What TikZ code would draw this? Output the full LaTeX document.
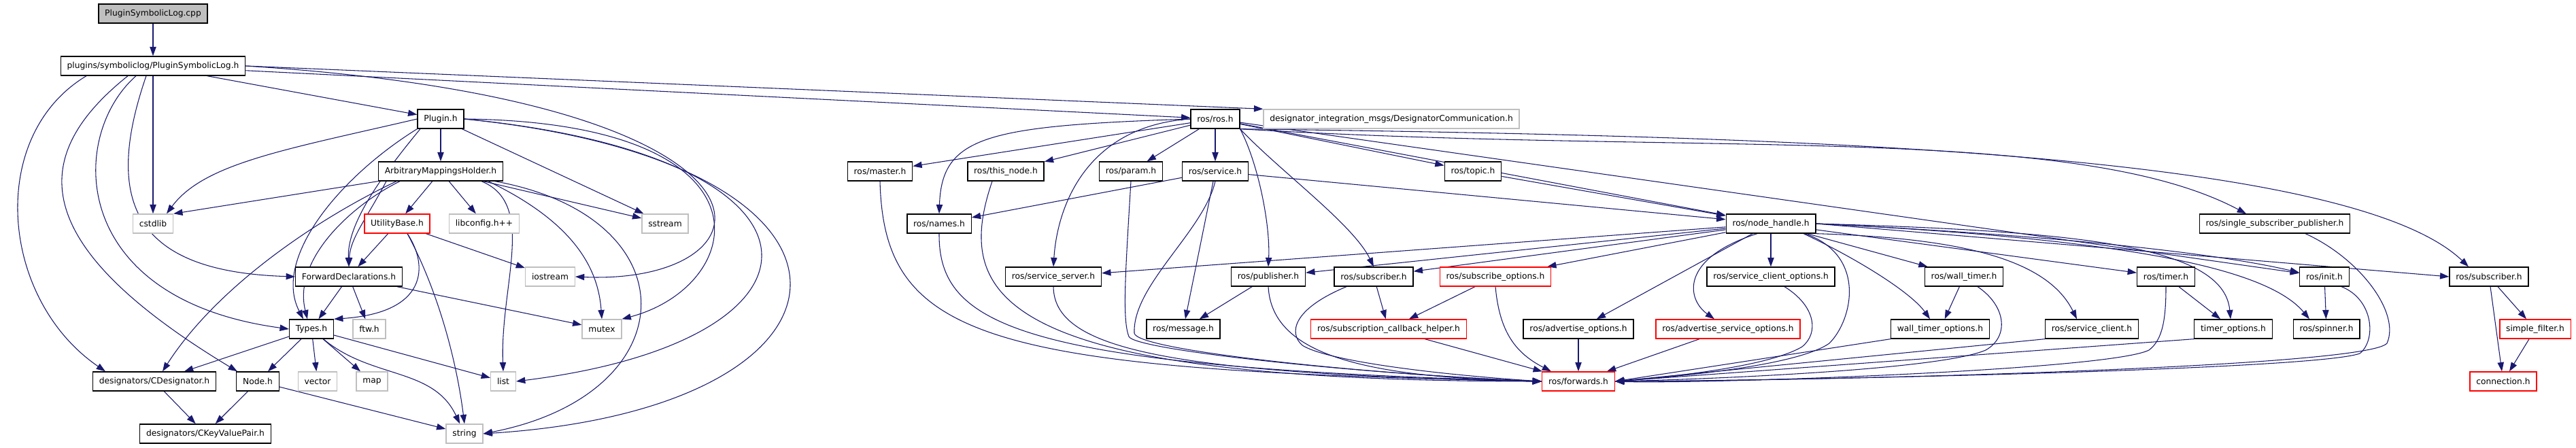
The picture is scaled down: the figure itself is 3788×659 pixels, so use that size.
\documentclass[tikz,border=0pt]{standalone}
\usepackage{fontspec}
\setmainfont{DejaVu Sans}
\usepackage{tikz}
\usetikzlibrary{arrows.meta, calc, positioning, backgrounds}
\definecolor{edgeblue}{HTML}{191970}
\definecolor{sysgray}{HTML}{BFBFBF}
\definecolor{linkred}{HTML}{FF0000}
\tikzset{
	filenode/.style={
			shape=rectangle,
			draw=black,
			line width=1pt,
			fill=white,
			minimum height=21pt,
			inner xsep=7pt,
			inner ysep=0pt,
			font=\fontsize{9.2}{11}\selectfont
		},
	sysnode/.style={
			filenode,
			draw=sysgray
		},
	rednode/.style={
			filenode,
			draw=linkred
		},
	rootnode/.style={
			filenode,
			fill=sysgray
		},
	includeedge/.style={
			draw=edgeblue,
			line width=0.8pt,
			-{Triangle[length=10pt,width=7pt]}
		}
}

\begin{document}
\begin{tikzpicture}[x=0.75pt, y=0.75pt]
\useasboundingbox (0,0) rectangle (3788,-659);

\node[rootnode] (cpp) at (225,-20) {PluginSymbolicLog.cpp};
\node[filenode] (psl) at (225,-97) {plugins/symboliclog/PluginSymbolicLog.h};

\node[filenode] (plugin) at (648,-175) {Plugin.h};
\node[filenode] (rosros) at (1787,-175) {ros/ros.h};
\node[sysnode] (dcomm) at (2046,-175) {designator\_integration\_msgs/DesignatorCommunication.h};

\node[filenode] (amh) at (648,-252) {ArbitraryMappingsHolder.h};
\node[filenode] (master) at (1294,-252) {ros/master.h};
\node[filenode] (thisnode) at (1479,-252) {ros/this\_node.h};
\node[filenode] (param) at (1663,-252) {ros/param.h};
\node[filenode] (service) at (1787,-252) {ros/service.h};
\node[filenode] (topic) at (2166,-252) {ros/topic.h};

\node[sysnode] (cstdlib) at (225,-329) {cstdlib};
\node[rednode] (utility) at (584,-329) {UtilityBase.h};
\node[sysnode] (libconfig) at (712,-329) {libconfig.h++};
\node[sysnode] (sstream) at (978,-329) {sstream};
\node[filenode] (names) at (1381,-329) {ros/names.h};
\node[filenode] (nodehandle) at (2604,-329) {ros/node\_handle.h};
\node[filenode] (ssp) at (3345,-329) {ros/single\_subscriber\_publisher.h};

\node[filenode] (fwddecl) at (513,-407) {ForwardDeclarations.h};
\node[sysnode] (iostream) at (809,-407) {iostream};
\node[filenode] (servserver) at (1549,-407) {ros/service\_server.h};
\node[filenode] (publisher) at (1865,-407) {ros/publisher.h};
\node[filenode] (subscriber) at (2020,-407) {ros/subscriber.h};
\node[rednode] (subopts) at (2199,-407) {ros/subscribe\_options.h};
\node[filenode] (scopts) at (2604,-407) {ros/service\_client\_options.h};
\node[filenode] (walltimer) at (2888,-407) {ros/wall\_timer.h};
\node[filenode] (timer) at (3185,-407) {ros/timer.h};
\node[filenode] (init) at (3418,-407) {ros/init.h};
\node[filenode] (subscriber2) at (3660,-407) {ros/subscriber.h};

\node[filenode] (types) at (458,-484) {Types.h};
\node[sysnode] (ftw) at (543,-484) {ftw.h};
\node[sysnode] (mutex) at (885,-484) {mutex};
\node[filenode] (message) at (1740,-484) {ros/message.h};
\node[rednode] (schelper) at (2042,-484) {ros/subscription\_callback\_helper.h};
\node[filenode] (advopts) at (2321,-484) {ros/advertise\_options.h};
\node[rednode] (advsvcopts) at (2541,-484) {ros/advertise\_service\_options.h};
\node[filenode] (wtopts) at (2853,-484) {wall\_timer\_options.h};
\node[filenode] (svcclient) at (3076,-484) {ros/service\_client.h};
\node[filenode] (timeropts) at (3284,-484) {timer\_options.h};
\node[filenode] (spinner) at (3421,-484) {ros/spinner.h};
\node[rednode] (simplefilter) at (3728,-484) {simple\_filter.h};

\node[filenode] (cdesig) at (227,-561) {designators/CDesignator.h};
\node[filenode] (nodeh) at (379,-561) {Node.h};
\node[sysnode] (vector) at (467,-561) {vector};
\node[sysnode] (map) at (547,-561) {map};
\node[sysnode] (list) at (740,-561) {list};
\node[rednode] (forwards) at (2321,-561) {ros/forwards.h};
\node[rednode] (connection) at (3681,-561) {connection.h};

\node[filenode] (ckv) at (302,-638) {designators/CKeyValuePair.h};
\node[sysnode] (string) at (683,-638) {string};

\begin{scope}[on background layer]
\draw[includeedge] (cpp) -- (psl);
\draw[includeedge] (psl) -- (plugin);
\draw[includeedge] (psl) -- (rosros);
\draw[includeedge] (psl.east) -- (dcomm.north west);
\draw[includeedge] (psl) -- (cstdlib);
\draw[includeedge] ($(psl.south)+(-98,0)$) .. controls (-20,-200) and (0,-440) .. ($(cdesig.north)+(-72,0)$);
\draw[includeedge] ($(psl.south)+(-37,0)$) .. controls (40,-230) and (40,-360) .. ($(nodeh.north)+(-30,0)$);
\draw[includeedge] ($(psl.south)+(-25,0)$) .. controls (100,-200) and (100,-440) .. (types.west);
\draw[includeedge] ($(psl.south)+(-10,0)$) .. controls (150,-300) and (200,-400) .. (fwddecl.west);
\draw[includeedge] (psl.east) .. controls (1200,-150) and (1150,-420) .. (iostream.east);

\draw[includeedge] (plugin) -- (amh);
\draw[includeedge] (plugin.west) .. controls (420,-220) and (300,-240) .. ($(cstdlib.north)+(20,0)$);
\draw[includeedge] (plugin.south west) .. controls (500,-260) and (400,-380) .. ($(types.north)+(-12,0)$);
\draw[includeedge] ($(plugin.south)+(-30,0)$) .. controls (560,-260) and (510,-330) .. (fwddecl.north);
\draw[includeedge] (plugin) -- (sstream);
\draw[includeedge] (plugin.east) .. controls (1150,-180) and (1100,-420) .. (mutex.north east);
\draw[includeedge] (plugin.east) .. controls (1250,-230) and (1250,-500) .. (list.east);
\draw[includeedge] (plugin.east) .. controls (1330,-240) and (1300,-600) .. (string.east);

\draw[includeedge] (amh.south west) -- (cstdlib.north east);
\draw[includeedge] (amh) -- (utility);
\draw[includeedge] (amh) -- (libconfig);
\draw[includeedge] (amh) -- (sstream);
\draw[includeedge] ($(amh.south)+(-60,0)$) .. controls (520,-300) and (430,-380) .. ($(types.north)+(-6,0)$);
\draw[includeedge] ($(amh.south)+(-65,0)$) .. controls (470,-320) and (320,-420) .. ($(cdesig.north)+(12,0)$);
\draw[includeedge] ($(amh.south)+(-80,0)$) .. controls (540,-320) and (515,-350) .. (fwddecl.north);
\draw[includeedge] ($(amh.south)+(60,0)$) .. controls (790,-300) and (735,-420) .. (list.north);
\draw[includeedge] ($(amh.south)+(70,0)$) .. controls (850,-330) and (880,-400) .. (mutex.north);
\draw[includeedge] ($(amh.south)+(80,0)$) .. controls (1020,-320) and (1010,-580) .. (string.east);

\draw[includeedge] (utility) -- (fwddecl);
\draw[includeedge] ($(utility.south)+(15,0)$) .. controls (630,-390) and (630,-460) .. (types.north east);
\draw[includeedge] (utility) -- (iostream);
\draw[includeedge] ($(utility.south)+(15,0)$) .. controls (640,-420) and (670,-520) .. (string.north);

\draw[includeedge] (fwddecl) -- (types);
\draw[includeedge] (fwddecl) -- (ftw);
\draw[includeedge] (fwddecl) -- (mutex);

\draw[includeedge] (types) -- (cdesig);
\draw[includeedge] (types) -- (nodeh);
\draw[includeedge] (types) -- (vector);
\draw[includeedge] (types) -- (map);
\draw[includeedge] (types) -- (list);
\draw[includeedge] (types) to[out=-40,in=115] (string);
\draw[includeedge] (cdesig) -- (ckv);
\draw[includeedge] (nodeh) -- (ckv);
\draw[includeedge] (nodeh) -- (string);

\draw[includeedge] (rosros) -- (master);
\draw[includeedge] (rosros) -- (thisnode);
\draw[includeedge] (rosros) -- (param);
\draw[includeedge] (rosros) -- (service);
\draw[includeedge] (rosros) -- (topic);
\draw[includeedge] (rosros) -- (nodehandle);
\draw[includeedge] (rosros) -- (init);
\draw[includeedge] (rosros.west) .. controls (1450,-185) and (1385,-200) .. (names.north);
\draw[includeedge] (rosros.west) .. controls (1600,-185) and (1555,-300) .. (servserver.north);
\draw[includeedge] (rosros.south east) .. controls (1850,-240) and (1868,-330) .. (publisher.north);
\draw[includeedge] (rosros.south east) .. controls (1880,-250) and (1990,-330) .. (subscriber.north);
\draw[includeedge] (rosros.south east) .. controls (2500,-230) and (3050,-180) .. ($(ssp.north)+(-42,0)$);
\draw[includeedge] (rosros.south east) .. controls (2600,-200) and (3450,-220) .. ($(subscriber2.north)+(-30,0)$);

\draw[includeedge] (service) -- (names);
\draw[includeedge] (service) -- (message);
\draw[includeedge] (service) -- (nodehandle);
\draw[includeedge] (service.south) .. controls (1770,-340) and (1665,-420) .. (1668,-490) .. controls (1670,-515) and (2000,-550) .. (forwards.west);
\draw[includeedge] (topic) -- (nodehandle);
\draw[includeedge] (master.south) .. controls (1300,-500) and (1450,-545) .. (forwards.west);
\draw[includeedge] (names.south) .. controls (1380,-480) and (1500,-540) .. (forwards.west);
\draw[includeedge] ($(thisnode.south)+(-20,0)$) .. controls (1400,-440) and (1470,-560) .. (forwards.west);
\draw[includeedge] (servserver.south) .. controls (1550,-510) and (1700,-550) .. (forwards.west);
\draw[includeedge] (param.south) .. controls (1655,-400) and (1650,-470) .. (1660,-495) .. controls (1668,-515) and (2000,-550) .. (forwards.west);
\draw[includeedge] (publisher) -- (message);
\draw[includeedge] (publisher.south) .. controls (1870,-520) and (2000,-555) .. (forwards.west);
\draw[includeedge] (subscriber) -- (schelper);
\draw[includeedge] ($(subscriber.south)+(-40,0)$) .. controls (1900,-455) and (1895,-490) .. (1915,-508) .. controls (1950,-530) and (2100,-550) .. (forwards.west);
\draw[includeedge] (subopts) -- (schelper);
\draw[includeedge] (subopts.south) .. controls (2205,-490) and (2230,-520) .. ($(forwards.north)+(-40,0)$);
\draw[includeedge] (schelper) -- (forwards);
\draw[includeedge] (advopts) -- (forwards);
\draw[includeedge] (advsvcopts) -- (forwards);

\draw[includeedge] (nodehandle) -- (publisher);
\draw[includeedge] (nodehandle) -- (subscriber);
\draw[includeedge] (nodehandle) -- (subopts);
\draw[includeedge] (nodehandle) -- (servserver);
\draw[includeedge] (nodehandle) -- (advopts);
\draw[includeedge] ($(nodehandle.south)+(-20,0)$) .. controls (2470,-380) and (2480,-440) .. ($(advsvcopts.north)+(-20,0)$);
\draw[includeedge] (nodehandle) -- (scopts);
\draw[includeedge] (nodehandle) -- (walltimer);
\draw[includeedge] ($(nodehandle.south)+(48,0)$) .. controls (2730,-380) and (2810,-430) .. ($(wtopts.north)+(-15,0)$);
\draw[includeedge] (nodehandle.south east) .. controls (2880,-350) and (3010,-380) .. ($(svcclient.north)+(-22,0)$);
\draw[includeedge] (nodehandle) -- (timer);
\draw[includeedge] (nodehandle.east) .. controls (3050,-340) and (3270,-360) .. ($(timeropts.north)+(-4,0)$);
\draw[includeedge] (nodehandle.east) .. controls (3100,-350) and (3330,-390) .. ($(spinner.north)+(-25,0)$);
\draw[includeedge] (nodehandle.east) .. controls (3000,-345) and (3250,-370) .. ($(init.west)+(0,6)$);
\draw[includeedge] (nodehandle.east) -- (subscriber2.west);
\draw[includeedge] ($(nodehandle.south)+(50,0)$) .. controls (2745,-375) and (2725,-470) .. (2690,-505) .. controls (2640,-540) and (2450,-555) .. (forwards.east);

\draw[includeedge] ($(scopts.south)+(20,0)$) .. controls (2670,-450) and (2675,-490) .. (2650,-510) .. controls (2600,-540) and (2450,-555) .. (forwards.east);
\draw[includeedge] (walltimer) -- (wtopts);
\draw[includeedge] ($(walltimer.south)+(20,0)$) .. controls (2950,-450) and (2955,-495) .. (2920,-515) .. controls (2850,-545) and (2500,-558) .. (forwards.east);
\draw[includeedge] (wtopts.south west) -- (forwards.east);
\draw[includeedge] (svcclient.south west) -- (forwards.east);
\draw[includeedge] (timer) -- (timeropts);
\draw[includeedge] (timer.south) .. controls (3185,-470) and (3180,-500) .. (3160,-515) .. controls (3100,-545) and (2500,-565) .. (forwards.east);
\draw[includeedge] (timeropts.south west) -- (forwards.east);
\draw[includeedge] (init) -- (spinner);
\draw[includeedge] ($(init.south)+(25,0)$) .. controls (3490,-440) and (3495,-500) .. (3470,-520) .. controls (3400,-545) and (2600,-560) .. (forwards.east);
\draw[includeedge] ($(ssp.south)+(45,0)$) .. controls (3470,-380) and (3530,-460) .. (3510,-505) .. controls (3480,-540) and (2700,-560) .. (forwards.east);
\draw[includeedge] (subscriber2) -- (connection);
\draw[includeedge] (subscriber2) -- (simplefilter);
\draw[includeedge] (simplefilter) -- (connection);
\end{scope}

\end{tikzpicture}
\end{document}
